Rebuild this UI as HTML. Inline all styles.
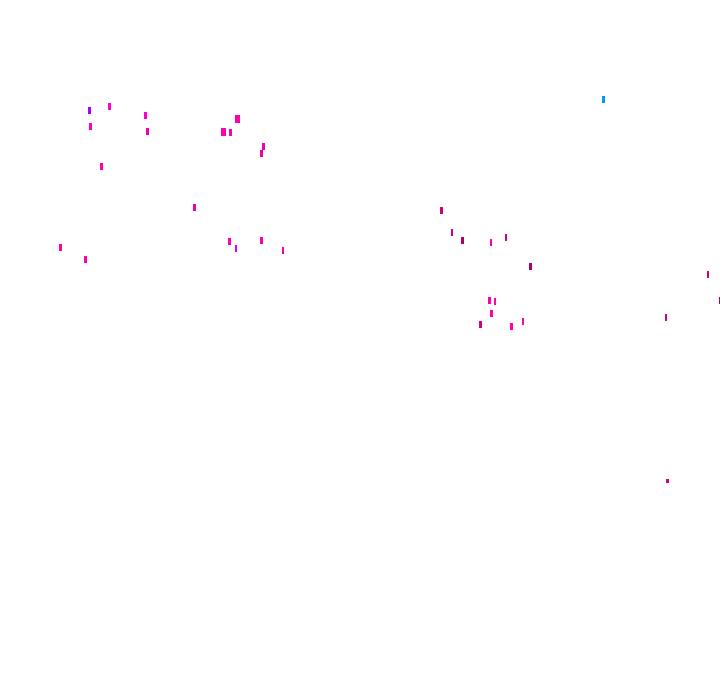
<!DOCTYPE html>
<html><head><style>
html,body{margin:0;padding:0;background:#fff;width:720px;height:692px;overflow:hidden;position:relative}
i{position:absolute;width:3px;height:7px;background:#f0c}
</style></head><body>
<i style="left:88px;top:107px;background:#a0f"></i>
<i style="left:108px;top:103px"></i>
<i style="left:144px;top:112px"></i>
<i style="left:89px;top:123px"></i>
<i style="left:146px;top:128px;background:#e0a"></i>
<i style="left:235px;top:115px;width:5px;height:8px;background:#f0a"></i>
<i style="left:221px;top:128px;width:5px;height:8px;background:#f0a"></i>
<i style="left:229px;top:129px;background:#f0a"></i>
<i style="left:262px;top:143px;background:#e0a"></i>
<i style="left:260px;top:150px;background:#e0a"></i>
<i style="left:100px;top:163px;background:#f0a"></i>
<i style="left:193px;top:204px;background:#e0a"></i>
<i style="left:59px;top:244px;background:#f0a"></i>
<i style="left:84px;top:256px;background:#f0a"></i>
<i style="left:228px;top:238px;background:#f0a"></i>
<i style="left:235px;top:245px;width:2px;background:#d0f"></i>
<i style="left:260px;top:237px;background:#f0a"></i>
<i style="left:282px;top:247px;width:2px;background:#e0a"></i>
<i style="left:602px;top:96px;background:#09f"></i>
<i style="left:440px;top:207px;background:#c07"></i>
<i style="left:451px;top:229px;width:2px;background:#c08"></i>
<i style="left:461px;top:237px;background:#a06"></i>
<i style="left:490px;top:239px;width:2px;background:#f0a"></i>
<i style="left:505px;top:234px;width:2px;background:#c08"></i>
<i style="left:529px;top:263px;background:#a06"></i>
<i style="left:707px;top:271px;width:2px;background:#c08"></i>
<i style="left:719px;top:297px;width:1px;background:#a06"></i>
<i style="left:665px;top:314px;width:2px;background:#c08"></i>
<i style="left:488px;top:297px;background:#f0a"></i>
<i style="left:494px;top:298px;width:2px;background:#f0a"></i>
<i style="left:490px;top:310px;background:#f0a"></i>
<i style="left:479px;top:321px;background:#c08"></i>
<i style="left:510px;top:323px;background:#f0a"></i>
<i style="left:522px;top:318px;width:2px;background:#f0a"></i>
<i style="left:666px;top:479px;width:3px;height:4px;background:#c08"></i>
</body></html>
